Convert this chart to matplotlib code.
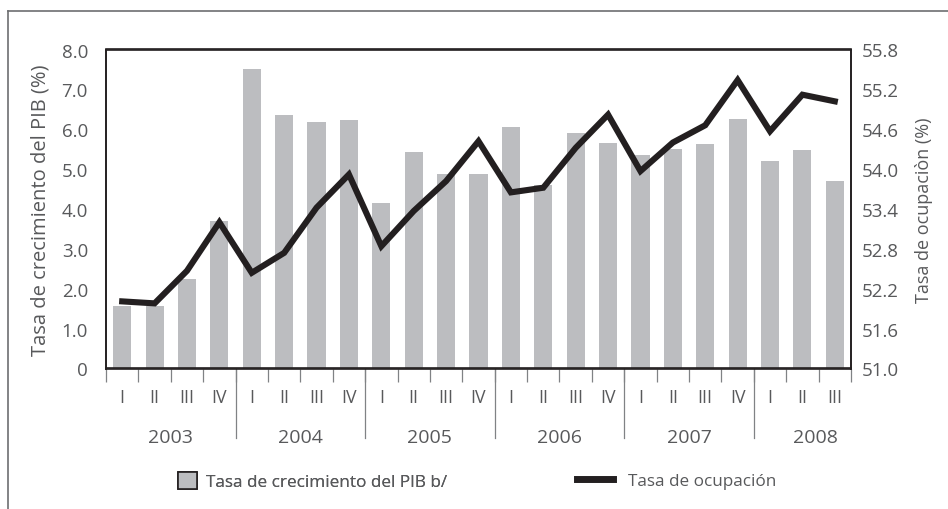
import matplotlib
matplotlib.use("Agg")
import matplotlib.pyplot as plt
from matplotlib.patches import Patch
from matplotlib.lines import Line2D
from matplotlib.transforms import blended_transform_factory
import numpy as np

plt.rcParams['font.family'] = ['Open Sans', 'DejaVu Sans']

quarters = ["I", "II", "III", "IV"] * 5 + ["I", "II", "III"]
years = ["2003", "2004", "2005", "2006", "2007", "2008"]
pib = [1.57, 1.57, 2.24, 3.69, 7.50, 6.35, 6.18, 6.22, 4.14, 5.42, 4.89, 4.89,
       6.05, 4.60, 5.90, 5.65, 5.35, 5.50, 5.62, 6.25, 5.20, 5.47, 4.69]
ocupacion = [52.01, 51.98, 52.47, 53.20, 52.44, 52.74, 53.42, 53.92, 52.84, 53.37, 53.82, 54.42,
             53.65, 53.72, 54.32, 54.82, 53.97, 54.40, 54.66, 55.34, 54.57, 55.12, 55.02]
left_ticks = [0, 1, 2, 3, 4, 5, 6, 7, 8]
left_ticklabels = ["0", "1.0", "2.0", "3.0", "4.0", "5.0", "6.0", "7.0", "8.0"]
right_ticks = [51.0, 51.6, 52.2, 52.8, 53.4, 54.0, 54.6, 55.2, 55.8]

TXT = '#58595b'
DARK = '#231f20'
BAR = '#bcbdc0'
FS = 13.5

fig = plt.figure(figsize=(9.48, 5.10), dpi=100)
W, H = 948, 510
ax = fig.add_axes([106 / W, 1 - 369.5 / H, (851 - 106) / W, (369.5 - 50.5) / H])
ax2 = ax.twinx()

x = np.arange(len(pib))
ax.bar(x, pib, width=0.56, color=BAR, zorder=2)
ax2.plot(x, ocupacion, color=DARK, lw=4.4, solid_joinstyle='miter', zorder=3)

ax.set_xlim(-0.5, len(pib) - 0.5)
ax.set_ylim(0, 8)
ax2.set_ylim(51.0, 55.8)
ax.set_yticks(left_ticks)
ax.set_yticklabels(left_ticklabels)
ax2.set_yticks(right_ticks)
ax2.set_yticklabels([f"{v:.1f}" for v in right_ticks])
ax.tick_params(axis='y', length=0, pad=13, labelsize=FS, labelcolor=TXT)
ax2.tick_params(axis='y', length=0, pad=8, labelsize=FS, labelcolor=TXT)

for a in (ax, ax2):
    for s in a.spines.values():
        s.set_color(DARK)
        s.set_linewidth(1.2)

ax.set_xticks(x)
ax.set_xticklabels(quarters)
ax.tick_params(axis='x', which='major', length=0, pad=14, labelsize=12.8, labelcolor=TXT)
ax.set_xticks(np.arange(-0.5, len(pib), 1.0), minor=True)
ax.tick_params(axis='x', which='minor', length=9.4, width=0.9, color='#808285')

trans = blended_transform_factory(ax.transData, ax.transAxes)
for b in [3.5, 7.5, 11.5, 15.5, 19.5]:
    ax.plot([b, b], [0, -0.218], transform=trans, color='#808285', lw=0.9, clip_on=False)

year_centers = [1.5, 5.5, 9.5, 13.5, 17.5, 21.4]
for yc, yl in zip(year_centers, years):
    ax.text(yc, -0.215, yl, transform=trans, ha='center', va='center', fontsize=14, color=TXT)

ax.set_ylabel("Tasa de crecimiento del PIB (%)", fontsize=14.5, color=TXT, labelpad=8)
ax2.set_ylabel("Tasa de ocupaciòn (%)", fontsize=13, color=TXT, labelpad=11)

# outer frame (left and top)
fig.add_artist(Line2D([8 / W, 8 / W], [0, 1 - 12 / H], transform=fig.transFigure, color='#6d6e71', lw=1.2))
fig.add_artist(Line2D([8 / W, 1], [1 - 12 / H, 1 - 12 / H], transform=fig.transFigure, color='#6d6e71', lw=1.2))

LFS = 12.3
fsz_px = LFS * 100 / 72
leg1 = fig.legend(handles=[Patch(facecolor=BAR, edgecolor=DARK, linewidth=1.2)],
                  labels=["Tasa de crecimiento del PIB b/"],
                  loc='center left', bbox_to_anchor=(178 / W, 1 - 482 / H), frameon=False,
                  fontsize=LFS, labelcolor=TXT, borderpad=0, borderaxespad=0,
                  handlelength=19 / fsz_px, handleheight=19 / fsz_px, handletextpad=0.5)
leg2 = fig.legend(handles=[Line2D([0], [0], color=DARK, lw=5)],
                  labels=["Tasa de ocupación"],
                  loc='center left', bbox_to_anchor=(577 / W, 1 - 482 / H), frameon=False,
                  fontsize=LFS, labelcolor=TXT, borderpad=0, borderaxespad=0,
                  handlelength=36 / fsz_px, handletextpad=0.85)
fig.add_artist(leg1)

fig.savefig("out.png", dpi=100)
